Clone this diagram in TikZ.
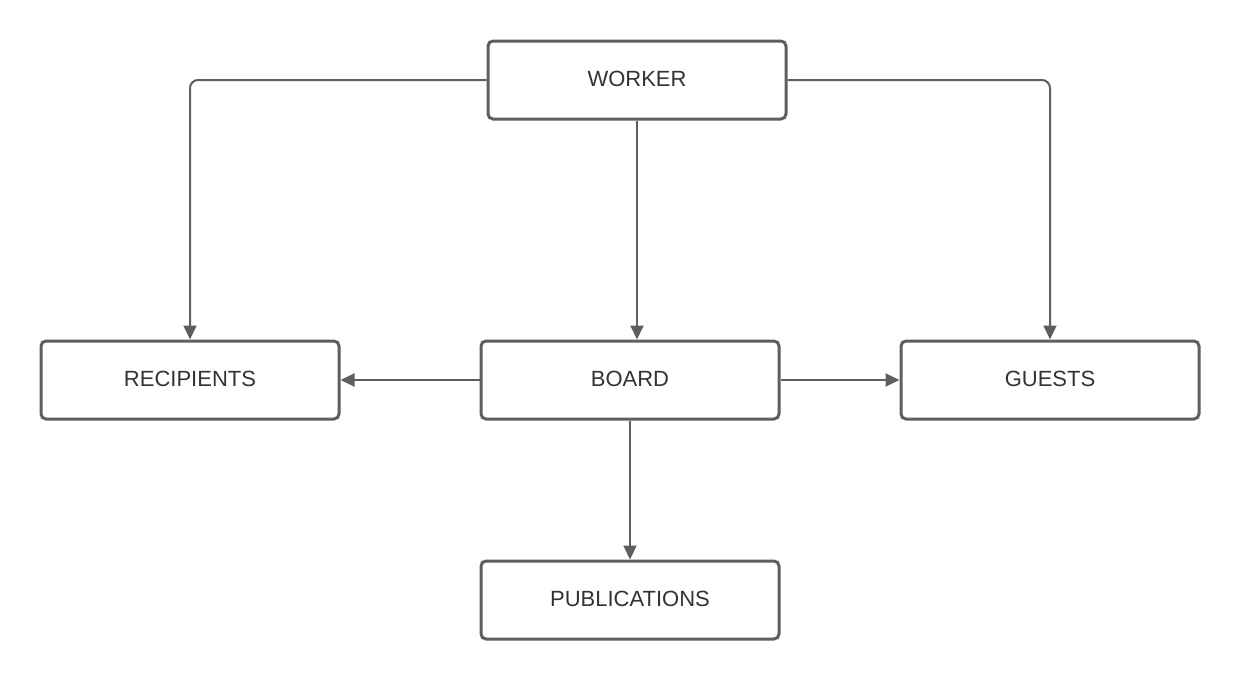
\documentclass[tikz,border=0pt]{standalone}
\usepackage{fontspec}
\setmainfont{Liberation Sans}
\usetikzlibrary{arrows.meta}
\definecolor{linegray}{HTML}{5E5E5E}
\definecolor{textgray}{HTML}{333333}
\newcommand\boxlbl[1]{\raisebox{2.5pt}{#1}}
\tikzset{
  box/.style={draw=linegray, line width=3pt, rounded corners=5pt, minimum width=298pt, minimum height=78pt, inner sep=0pt, fill=white, text=textgray, font=\fontsize{22pt}{26pt}\selectfont},
  conn/.style={draw=linegray, line width=2pt, rounded corners=8pt, -{Triangle[length=14pt,width=13pt]}}
}
\begin{document}
\begin{tikzpicture}[x=1pt,y=-1pt]
\useasboundingbox (0,0) rectangle (1240,680);
\node[box] (worker) at (637,80) {\boxlbl{WORKER}};
\node[box] (recip) at (190,380) {\boxlbl{RECIPIENTS}};
\node[box] (board) at (630,380) {\boxlbl{BOARD}};
\node[box] (guests) at (1050,380) {\boxlbl{GUESTS}};
\node[box] (pub) at (630,600) {\boxlbl{PUBLICATIONS}};
\draw[conn] (worker.west) -| (recip.north);
\draw[conn] (worker.east) -| (guests.north);
\draw[conn] (worker.south) -- (worker.south |- board.north);
\draw[conn] (board.west) -- (recip.east);
\draw[conn] (board.east) -- (guests.west);
\draw[conn] (board.south) -- (pub.north);
\end{tikzpicture}
\end{document}
